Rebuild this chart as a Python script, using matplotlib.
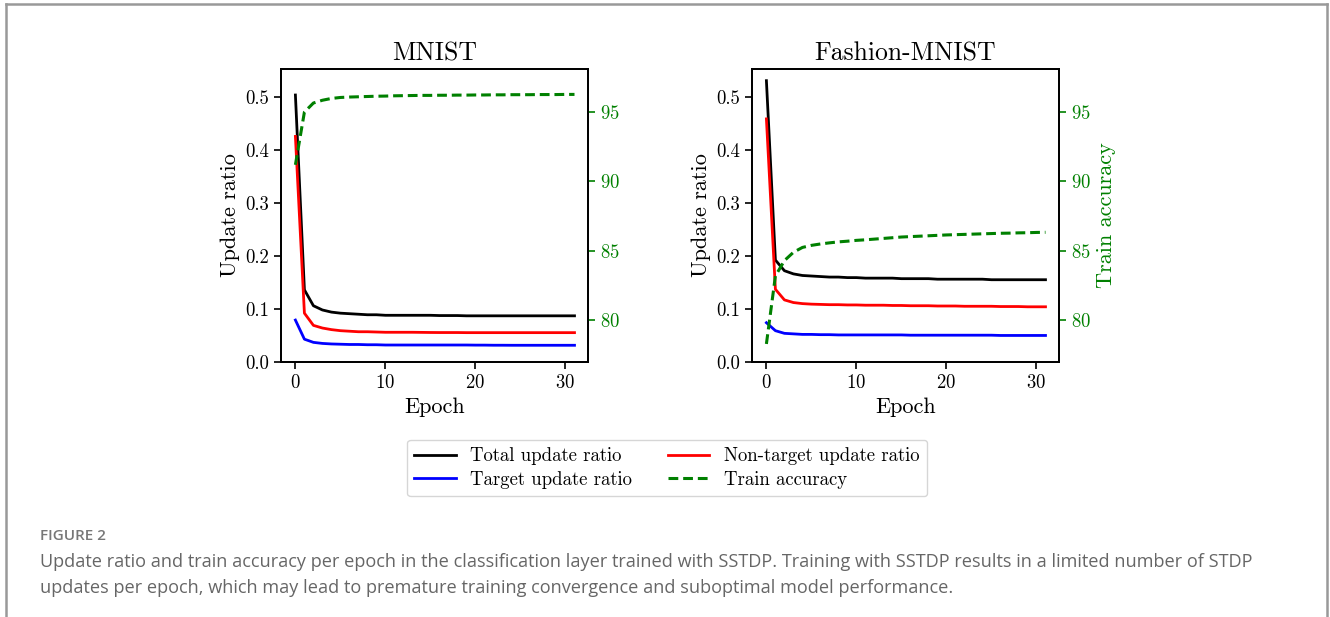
import matplotlib
matplotlib.use("Agg")
import matplotlib.pyplot as plt
from matplotlib.lines import Line2D

plt.rcParams['font.family'] = 'serif'
plt.rcParams['font.serif'] = ['cmr10']
plt.rcParams['mathtext.fontset'] = 'cm'
plt.rcParams['axes.unicode_minus'] = False
plt.rcParams['axes.formatter.use_mathtext'] = True

epochs = list(range(32))

# MNIST
mnist_total = [0.503, 0.136, 0.106, 0.098, 0.094, 0.092, 0.091, 0.090, 0.089, 0.089,
               0.088, 0.088, 0.088, 0.088, 0.088, 0.088, 0.0875, 0.0875, 0.0875, 0.087,
               0.087, 0.087, 0.087, 0.087, 0.087, 0.087, 0.087, 0.087, 0.087, 0.087,
               0.087, 0.087]
mnist_nontarget = [0.425, 0.092, 0.069, 0.064, 0.061, 0.059, 0.058, 0.057, 0.057, 0.0565,
                   0.056, 0.056, 0.056, 0.056, 0.0558, 0.0556, 0.0555, 0.0555, 0.0555, 0.0553,
                   0.0553, 0.0553, 0.0553, 0.0553, 0.0553, 0.0553, 0.0553, 0.0553, 0.0553, 0.0553,
                   0.0553, 0.0553]
mnist_target = [0.079, 0.043, 0.037, 0.035, 0.034, 0.0335, 0.033, 0.033, 0.0325, 0.0325,
                0.032, 0.032, 0.032, 0.032, 0.032, 0.032, 0.032, 0.032, 0.032, 0.032,
                0.0318, 0.0318, 0.0316, 0.0316, 0.0315, 0.0315, 0.0315, 0.0315, 0.0315, 0.0315,
                0.0315, 0.0315]
mnist_acc = [91.2, 95.0, 95.65, 95.85, 95.98, 96.05, 96.08, 96.1, 96.12, 96.14,
             96.15, 96.17, 96.18, 96.19, 96.2, 96.2, 96.21, 96.21, 96.22, 96.22,
             96.23, 96.23, 96.24, 96.24, 96.25, 96.25, 96.25, 96.26, 96.26, 96.26,
             96.27, 96.27]

# Fashion-MNIST
fashion_total = [0.530, 0.192, 0.172, 0.166, 0.163, 0.162, 0.161, 0.160, 0.160, 0.159,
                 0.159, 0.158, 0.158, 0.158, 0.158, 0.157, 0.157, 0.157, 0.157, 0.156,
                 0.156, 0.156, 0.156, 0.156, 0.156, 0.155, 0.155, 0.155, 0.155, 0.155,
                 0.155, 0.155]
fashion_nontarget = [0.458, 0.137, 0.117, 0.112, 0.110, 0.109, 0.1085, 0.108, 0.108, 0.1075,
                     0.1075, 0.107, 0.107, 0.107, 0.1065, 0.1065, 0.106, 0.106, 0.106, 0.1055,
                     0.1055, 0.1055, 0.105, 0.105, 0.105, 0.105, 0.1045, 0.1045, 0.1045, 0.104,
                     0.104, 0.104]
fashion_target = [0.074, 0.059, 0.054, 0.053, 0.052, 0.052, 0.0515, 0.0515, 0.051, 0.051,
                  0.051, 0.051, 0.051, 0.051, 0.051, 0.051, 0.0505, 0.0505, 0.0505, 0.0505,
                  0.0505, 0.0505, 0.0505, 0.0505, 0.0505, 0.0505, 0.050, 0.050, 0.050, 0.050,
                  0.050, 0.050]
fashion_acc = [78.3, 83.2, 84.3, 84.9, 85.25, 85.4, 85.5, 85.58, 85.65, 85.7,
               85.76, 85.8, 85.85, 85.9, 85.95, 86.0, 86.03, 86.06, 86.09, 86.12,
               86.15, 86.17, 86.19, 86.21, 86.23, 86.25, 86.27, 86.28, 86.3, 86.31,
               86.33, 86.34]

titles = ['MNIST', 'Fashion-MNIST']
panels = [
    (mnist_total, mnist_nontarget, mnist_target, mnist_acc),
    (fashion_total, fashion_nontarget, fashion_target, fashion_acc),
]
acc_ticks = [80, 85, 90, 95]

fig = plt.figure(figsize=(13.3, 6.17), dpi=100)
W, H = 1330.0, 617.0

# page frame
frame_c = '#999999'
fig.add_artist(Line2D([6 / W, 6 / W], [0, 1 - 4 / H], color=frame_c, lw=1.8))
fig.add_artist(Line2D([6 / W, 1327 / W], [1 - 4 / H, 1 - 4 / H], color=frame_c, lw=1.8))
fig.add_artist(Line2D([1327 / W, 1327 / W], [0, 1 - 4 / H], color=frame_c, lw=1.8))

lefts = [281, 752]
handles = None
for i, (total, nontarget, target, acc) in enumerate(panels):
    ax = fig.add_axes([lefts[i] / W, (H - 362) / H, 307 / W, 293 / H])
    h1, = ax.plot(epochs, total, color='black', lw=2, label='Total update ratio')
    h2, = ax.plot(epochs, nontarget, color='red', lw=2, label='Non-target update ratio')
    h3, = ax.plot(epochs, target, color='blue', lw=2, label='Target update ratio')
    ax.set_ylim(0, 0.552)
    ax.set_xlim(-1.6, 32.5)
    ax.set_xticks([0, 10, 20, 30])
    ax.set_yticks([0.0, 0.1, 0.2, 0.3, 0.4, 0.5])
    ax.set_yticklabels(['0.0', '0.1', '0.2', '0.3', '0.4', '0.5'])
    ax.tick_params(labelsize=13.5, width=1.2, length=5)
    ax.set_xlabel('Epoch', fontsize=16)
    ax.set_ylabel('Update ratio', fontsize=16)
    ax.set_title(titles[i], fontsize=18.5, pad=6)
    for s in ax.spines.values():
        s.set_linewidth(1.3)

    ax2 = ax.twinx()
    h4, = ax2.plot(epochs, acc, color='green', lw=2.2, ls='--', dashes=(3.2, 1.6),
                   label='Train accuracy')
    ax2.set_ylim(77.0, 98.1)
    ax2.set_yticks(acc_ticks)
    ax2.tick_params(labelsize=13.5, colors='green', width=1.2, length=5)
    for s in ax2.spines.values():
        s.set_linewidth(1.3)
        s.set_color('black')
    if i == 1:
        ax2.set_ylabel('Train accuracy', fontsize=16, color='green')
    handles = [h1, h2, h3, h4]

fig.legend([handles[0], handles[2], handles[1], handles[3]],
           ['Total update ratio', 'Target update ratio', 'Non-target update ratio', 'Train accuracy'],
           ncol=2, loc='center', bbox_to_anchor=(667 / W, 1 - 468 / H), fontsize=13.5,
           frameon=True, fancybox=True, edgecolor='#cccccc', handlelength=2.2,
           columnspacing=1.9, borderpad=0.4, labelspacing=0.3)

fig.text(40 / W, 1 - 536 / H, 'FIGURE 2', fontsize=11, color='#777777',
         family='Open Sans', weight='semibold', va='center')
fig.text(40 / W, 1 - 562 / H,
         'Update ratio and train accuracy per epoch in the classification layer trained with SSTDP. '
         'Training with SSTDP results in a limited number of STDP',
         fontsize=13.05, color='#666666', family='Open Sans', va='center')
fig.text(40 / W, 1 - 588 / H,
         'updates per epoch, which may lead to premature training convergence and suboptimal model performance.',
         fontsize=13.05, color='#666666', family='Open Sans', va='center')

fig.savefig('out.png', dpi=100)
